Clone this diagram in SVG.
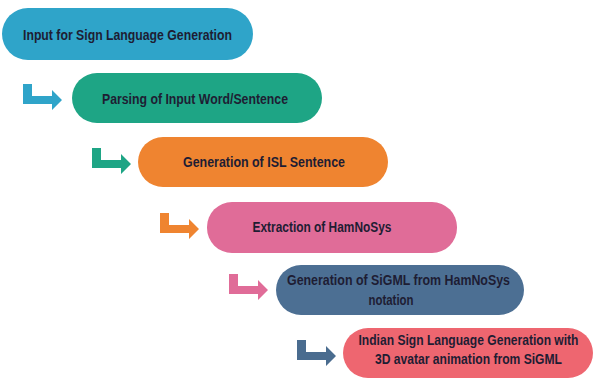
<svg xmlns="http://www.w3.org/2000/svg" width="594" height="381" viewBox="0 0 594 381">
  <style>
    .lbl { font-family: "Liberation Sans", Arial, sans-serif; font-weight: bold; font-size: 14px; fill: #1e1d33; text-anchor: middle; }
  </style>
  <defs>
    <path id="arr" d="M0,0 H9 V12 H29 V6 L39,16 L29,26 V20 H0 Z"/>
  </defs>
  <rect width="594" height="381" fill="#ffffff"/>
  <g id="connectors">
    <use href="#arr" x="23" y="84" fill="#2fa4c9"/>
    <use href="#arr" x="92" y="148" fill="#1ea585"/>
    <use href="#arr" x="160" y="213" fill="#ef8430"/>
    <use href="#arr" x="229" y="274" fill="#e06c98"/>
    <use href="#arr" x="297" y="340" fill="#4a6c8f"/>
  </g>
  <g id="n1">
    <rect x="2" y="8" width="251" height="52" rx="26" fill="#2fa4c9"/>
    <text class="lbl" x="127.5" y="39.5" textLength="209" lengthAdjust="spacingAndGlyphs">Input for Sign Language Generation</text>
  </g>
  <g id="n2">
    <rect x="72" y="73" width="250" height="50" rx="25" fill="#1ea585"/>
    <text class="lbl" x="195" y="104" textLength="186" lengthAdjust="spacingAndGlyphs">Parsing of Input Word/Sentence</text>
  </g>
  <g id="n3">
    <rect x="138" y="137" width="250" height="50" rx="25" fill="#ef8430"/>
    <text class="lbl" x="264" y="167" textLength="162" lengthAdjust="spacingAndGlyphs">Generation of ISL Sentence</text>
  </g>
  <g id="n4">
    <rect x="207" y="202" width="250" height="51" rx="25" fill="#e06c98"/>
    <text class="lbl" x="322" y="232" textLength="139" lengthAdjust="spacingAndGlyphs">Extraction of HamNoSys</text>
  </g>
  <g id="n5">
    <rect x="276" y="265" width="248" height="50" rx="25" fill="#4c6f93"/>
    <text class="lbl" x="398.5" y="285" textLength="223" lengthAdjust="spacingAndGlyphs">Generation of SiGML from HamNoSys</text>
    <text class="lbl" x="391" y="305" textLength="45" lengthAdjust="spacingAndGlyphs">notation</text>
  </g>
  <g id="n6">
    <rect x="343" y="328" width="250" height="50" rx="25" fill="#ee6670"/>
    <text class="lbl" x="468.5" y="345" textLength="220" lengthAdjust="spacingAndGlyphs">Indian Sign Language Generation with</text>
    <text class="lbl" x="468.5" y="364" textLength="187" lengthAdjust="spacingAndGlyphs">3D avatar animation from SiGML</text>
  </g>
</svg>
